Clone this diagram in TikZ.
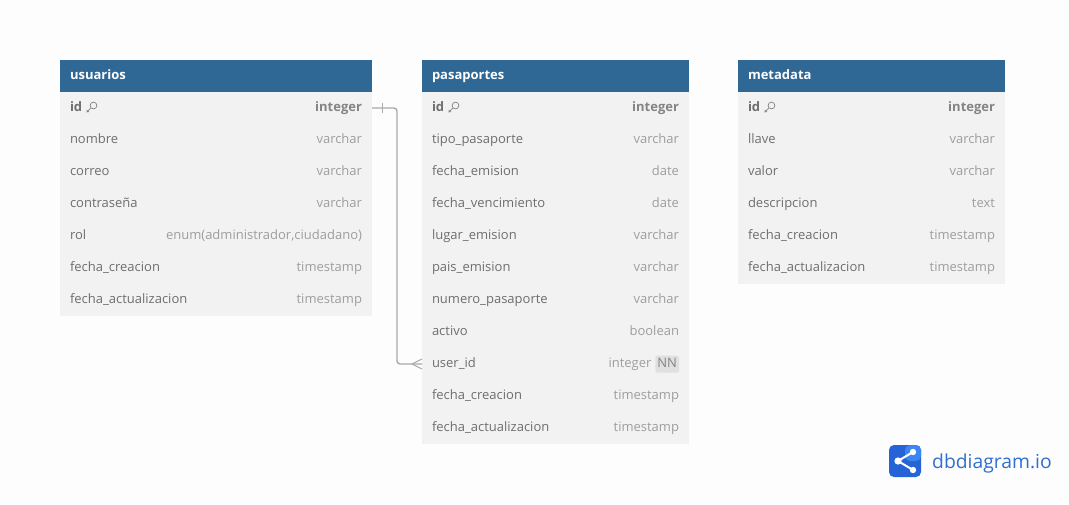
\documentclass[tikz,border=0pt]{standalone}
\usepackage{fontspec}
\setmainfont{Open Sans}
\usetikzlibrary{positioning}
\definecolor{fondo}{HTML}{FDFDFD}
\definecolor{azul}{HTML}{2F6895}
\definecolor{gris}{HTML}{F2F2F2}
\definecolor{campo}{HTML}{6E6E6E}
\definecolor{suave}{HTML}{9E9E9E}
\definecolor{linea}{HTML}{A9A9AF}
\definecolor{logo}{HTML}{2F6FD2}
\definecolor{logoizq}{HTML}{2563D6}
\definecolor{logoder}{HTML}{3B86F0}
\tikzset{
    cabecera/.style={fill=azul,text=white,font=\fontsize{13}{15}\selectfont\bfseries,minimum height=32pt,inner xsep=10pt,inner ysep=0pt,outer sep=0pt,align=left,text height=9pt,text depth=3pt},
    fila/.style={fill=gris,text=campo,font=\fontsize{13}{15}\selectfont,minimum height=32pt,inner xsep=10pt,inner ysep=0pt,outer sep=0pt,align=left,text height=9pt,text depth=3pt},
    clave/.style={fila,font=\fontsize{13}{15}\selectfont\bfseries},
    tipo/.style={text=suave,font=\fontsize{13}{15}\selectfont,inner sep=0pt,outer sep=0pt,anchor=east,text height=9pt,text depth=3pt},
    tipoclave/.style={tipo,text=campo!85,font=\fontsize{13}{15}\selectfont\bfseries},
    nn/.style={fill=black!12,text=campo!85,rounded corners=1.5pt,font=\fontsize{13}{15}\selectfont,inner xsep=2pt,inner ysep=2.5pt,outer sep=0pt,anchor=east,text height=9pt,text depth=3pt},
    rel/.style={draw=linea,line width=1.4pt},
    llave/.pic={
        \draw[campo!85,line width=.7pt] (2.5,-2.5) circle (3.4pt) (0.2,-0.2) -- (-4,3.8) -- (-4,1.8) (-4,3.8) -- (-2,3.8);
    }
}
\begin{document}
\begin{tikzpicture}[x=1pt,y=-1pt,node distance=0pt]
    \useasboundingbox[fill=fondo] (0,0) rectangle (1069,504);
    % usuarios
    \node(usuarios)[cabecera,text width=292pt,anchor=north west] at (60,60){usuarios};
    \node(u_id)[clave,text width=292pt,below=of usuarios]{id};
    \node(u_nombre)[fila,text width=292pt,below=of u_id]{nombre};
    \node(u_correo)[fila,text width=292pt,below=of u_nombre]{correo};
    \node(u_clave)[fila,text width=292pt,below=of u_correo]{contraseña};
    \node(u_rol)[fila,text width=292pt,below=of u_clave]{rol};
    \node(u_creacion)[fila,text width=292pt,below=of u_rol]{fecha\_creacion};
    \node(u_act)[fila,text width=292pt,below=of u_creacion]{fecha\_actualizacion};
    \node(ut_id)[tipoclave] at ([xshift=-10pt]u_id.east){integer};
    \node(ut_nombre)[tipo] at ([xshift=-10pt]u_nombre.east){varchar};
    \node(ut_correo)[tipo] at ([xshift=-10pt]u_correo.east){varchar};
    \node(ut_clave)[tipo] at ([xshift=-10pt]u_clave.east){varchar};
    \node(ut_rol)[tipo] at ([xshift=-10pt]u_rol.east){enum(administrador,ciudadano)};
    \node(ut_creacion)[tipo] at ([xshift=-10pt]u_creacion.east){timestamp};
    \node(ut_act)[tipo] at ([xshift=-10pt]u_act.east){timestamp};
    \pic at ([xshift=31pt]u_id.west) {llave};
    % pasaportes
    \node(pasaportes)[cabecera,text width=247pt,anchor=north west] at (422,60){pasaportes};
    \node(p_id)[clave,text width=247pt,below=of pasaportes]{id};
    \node(p_tipo)[fila,text width=247pt,below=of p_id]{tipo\_pasaporte};
    \node(p_emision)[fila,text width=247pt,below=of p_tipo]{fecha\_emision};
    \node(p_venc)[fila,text width=247pt,below=of p_emision]{fecha\_vencimiento};
    \node(p_lugar)[fila,text width=247pt,below=of p_venc]{lugar\_emision};
    \node(p_pais)[fila,text width=247pt,below=of p_lugar]{pais\_emision};
    \node(p_numero)[fila,text width=247pt,below=of p_pais]{numero\_pasaporte};
    \node(p_activo)[fila,text width=247pt,below=of p_numero]{activo};
    \node(p_user)[fila,text width=247pt,below=of p_activo]{user\_id};
    \node(p_creacion)[fila,text width=247pt,below=of p_user]{fecha\_creacion};
    \node(p_act)[fila,text width=247pt,below=of p_creacion]{fecha\_actualizacion};
    \node(pt_id)[tipoclave] at ([xshift=-10pt]p_id.east){integer};
    \node(pt_tipo)[tipo] at ([xshift=-10pt]p_tipo.east){varchar};
    \node(pt_emision)[tipo] at ([xshift=-10pt]p_emision.east){date};
    \node(pt_venc)[tipo] at ([xshift=-10pt]p_venc.east){date};
    \node(pt_lugar)[tipo] at ([xshift=-10pt]p_lugar.east){varchar};
    \node(pt_pais)[tipo] at ([xshift=-10pt]p_pais.east){varchar};
    \node(pt_numero)[tipo] at ([xshift=-10pt]p_numero.east){varchar};
    \node(pt_activo)[tipo] at ([xshift=-10pt]p_activo.east){boolean};
    \node(pt_nn)[nn] at ([xshift=-10pt]p_user.east){NN};
    \node(pt_user)[tipo] at ([xshift=-4pt]pt_nn.west){integer};
    \node(pt_creacion)[tipo] at ([xshift=-10pt]p_creacion.east){timestamp};
    \node(pt_act)[tipo] at ([xshift=-10pt]p_act.east){timestamp};
    \pic at ([xshift=31pt]p_id.west) {llave};
    % metadata
    \node(metadata)[cabecera,text width=247pt,anchor=north west] at (738,60){metadata};
    \node(m_id)[clave,text width=247pt,below=of metadata]{id};
    \node(m_llave)[fila,text width=247pt,below=of m_id]{llave};
    \node(m_valor)[fila,text width=247pt,below=of m_llave]{valor};
    \node(m_desc)[fila,text width=247pt,below=of m_valor]{descripcion};
    \node(m_creacion)[fila,text width=247pt,below=of m_desc]{fecha\_creacion};
    \node(m_act)[fila,text width=247pt,below=of m_creacion]{fecha\_actualizacion};
    \node(mt_id)[tipoclave] at ([xshift=-10pt]m_id.east){integer};
    \node(mt_llave)[tipo] at ([xshift=-10pt]m_llave.east){varchar};
    \node(mt_valor)[tipo] at ([xshift=-10pt]m_valor.east){varchar};
    \node(mt_desc)[tipo] at ([xshift=-10pt]m_desc.east){text};
    \node(mt_creacion)[tipo] at ([xshift=-10pt]m_creacion.east){timestamp};
    \node(mt_act)[tipo] at ([xshift=-10pt]m_act.east){timestamp};
    \pic at ([xshift=31pt]m_id.west) {llave};
    % relacion
    \draw[rel,rounded corners=3pt] (u_id.east) -- ++(25,0) |- (p_user.west);
    \draw[rel,line width=1pt] ([xshift=10pt,yshift=5pt]u_id.east) -- ([xshift=10pt,yshift=-5pt]u_id.east);
    \draw[rel,line width=1pt] ([xshift=-10pt]p_user.west) -- ([yshift=5pt]p_user.west);
    \draw[rel,line width=1pt] ([xshift=-10pt]p_user.west) -- ([yshift=-5pt]p_user.west);
    % logo
    \node(logo_caja)[fill=logoizq,rounded corners=5pt,minimum size=32pt,inner sep=0pt,outer sep=0pt,anchor=north west] at (889,445){};
    \fill[logoder,rounded corners=5pt] (905,445) rectangle (921,461);
    \draw[white,line width=2pt] (913,452) -- (898,461) -- (913,470);
    \fill[white] (913,452) circle (3.2pt) (898,461) circle (3.6pt) (913,470) circle (3.2pt);
    \node(logo_texto)[text=logo,font=\fontsize{19.3}{22}\selectfont,inner sep=0pt,anchor=base west] at (932,468){dbdiagram.io};
\end{tikzpicture}
\end{document}
